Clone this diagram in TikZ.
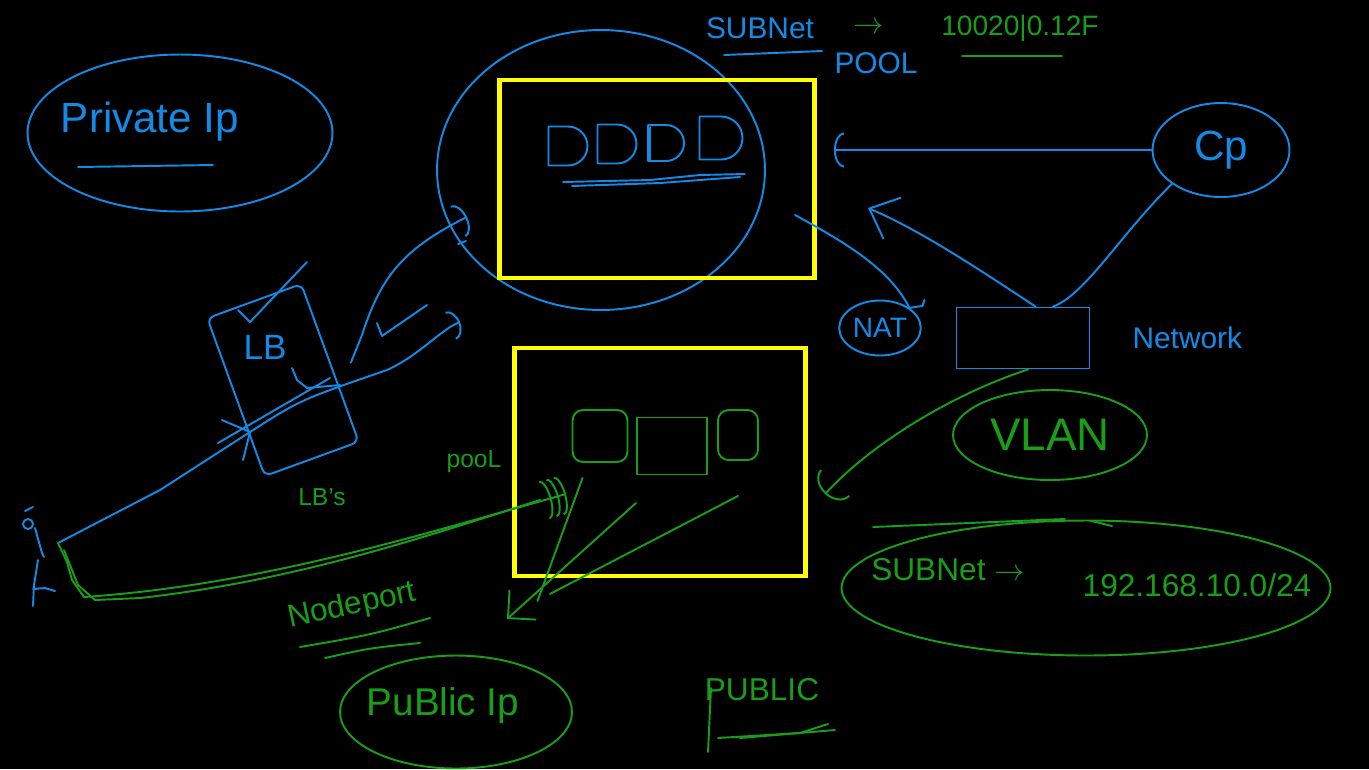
\documentclass[tikz,border=0pt]{standalone}
\usepackage{fontspec}
\setmainfont{Liberation Sans}
\usetikzlibrary{positioning,shapes.geometric,shapes.misc,arrows.meta}

\definecolor{penblue}{RGB}{18,138,230}
\definecolor{pengreen}{RGB}{24,158,24}
\definecolor{boxyellow}{RGB}{255,255,0}

\newcommand{\hand}[1]{\fontsize{#1}{#1}\selectfont}

\tikzset{
  blue pen/.style={draw=penblue, line width=1.1pt, line cap=round, line join=round},
  green pen/.style={draw=pengreen, line width=1.1pt, line cap=round, line join=round},
  ring/.style={ellipse, inner sep=0pt},
  yellowbox/.style={draw=boxyellow, line width=2.8pt, inner sep=0pt},
  bluetxt/.style={text=penblue, inner sep=1pt},
  greentxt/.style={text=pengreen, inner sep=1pt},
  dpod/.style={rounded rectangle, rounded rectangle west arc=none, inner sep=0pt},
}

\begin{document}
\begin{tikzpicture}[x=0.02cm, y=-0.02cm, >={Straight Barb[length=3mm,width=6mm]}]
\useasboundingbox (0,0) rectangle (1369,769);
\fill[black] (0,0) rectangle (1369,769);

% private ip and the load balancer
\node[blue pen, ring, minimum width=6.1cm, minimum height=3.14cm] (privip) at (180,133) {};
\node[bluetxt, font=\hand{24}] (privtxt) at (150,122) {Private Ip};
\draw[blue pen] (78,167) -- (213,165);

\node[blue pen, rectangle, rounded corners=4pt, rotate=20, minimum width=2cm, minimum height=3.36cm] (lb) at (283,380) {};
\node[bluetxt, font=\hand{20}] (lbtxt) at (265,347) {LB};
\node[greentxt, font=\hand{14}] (lbs) at (322,497) {LB's};

% user on the left
\coordinate (user) at (58,543);
\draw[blue pen] (25,511) -- (33,507);
\draw[blue pen] (28,524) circle (0.1cm);
\draw[blue pen] (35,528) -- (42,553) -- (44,557) (38,560) -- (34,585) -- (33,606) (33,589) -- (45,588) -- (55,591);

\coordinate (lbhook) at (460,322);
\draw[blue pen, -{Arc Barb[length=2mm,width=6mm]}] (user) -- (160,490) -- (250,432) .. controls (300,400) .. (387,370) .. controls (420,355) and (440,330) .. (lbhook);
\draw[blue pen] (218,443) -- (330,378);
\draw[blue pen] (222,420) -- (250,432) -- (243,460);
\draw[blue pen] (292,368) -- (297,380) -- (307,388) -- (340,385);
\draw[blue pen] (238,310) -- (250,322) -- (307,262);
\draw[blue pen] (377,323) -- (382,336) -- (427,305);

\coordinate (ringin) at (467,217);
\draw[blue pen, -{Arc Barb[length=2mm,width=7mm]}] ([xshift=0.4cm]lb.east) -- (362,335) .. controls (380,280) and (400,250) .. (ringin);
\draw[blue pen] (458,244) -- (466,241);

% pod box at the top
\node[blue pen, ring, minimum width=6.56cm, minimum height=5.6cm] (podring) at (601,170) {};
\node[yellowbox, minimum width=6.3cm, minimum height=3.96cm] (podbox) at (657,179) {};
\node[blue pen, dpod, minimum width=0.48cm, minimum height=0.78cm] (pa) at (568,146) {};
\node[blue pen, dpod, minimum width=0.52cm, minimum height=0.78cm] (pb) at (617,144) {};
\node[blue pen, dpod, minimum width=0.46cm, minimum height=0.72cm] (pc) at (666,143) {};
\node[blue pen, dpod, minimum width=0.62cm, minimum height=0.86cm] (pd) at (721,138) {};
\draw[blue pen] (650,127) -- (650,160);
\draw[blue pen] (563,182) -- (650,180) -- (700,175) -- (745,174);
\draw[blue pen] (572,186) -- (660,183) -- (740,177);

% subnet pool header
\node[bluetxt, font=\hand{17}] (subhead) at (760,28) {SUBNet};
\draw[blue pen] (724,55) -- (822,51);
\node[greentxt, font=\hand{17}, right=0.7cm of subhead] (subarrow) {$\rightarrow$};
\node[bluetxt, font=\hand{17}] (poolhead) at (876,63) {POOL};
\node[greentxt, font=\hand{16}] (poolip) at (1020,28) {10020|0.12F};
\draw[green pen] (962,56) -- (1062,56);

% control plane, network, nat
\node[blue pen, ring, bluetxt, font=\hand{24}, minimum width=2.74cm, minimum height=1.88cm] (cp) at (1221,150) {Cp};
\node[blue pen, rectangle, minimum width=2.66cm, minimum height=1.22cm] (netbox) at (1023,338) {};
\node[bluetxt, font=\hand{17}, right=0.8cm of netbox] (nettxt) {Network};
\node[blue pen, ring, bluetxt, font=\hand{16}, minimum width=1.4cm, minimum height=1.1cm] (nat) at (880,328) {NAT};

\draw[blue pen, -{Arc Barb[length=2mm,width=7mm]}, shorten >=0.34cm] (cp.west) -- (podbox.east |- cp.west);
\draw[blue pen] (cp.south west) .. controls (1120,235) and (1085,295) .. ([xshift=0.6cm]netbox.north);

\coordinate (natup) at (868,208);
\draw[blue pen, -{Straight Barb[length=5mm,width=9mm]}] ([xshift=0.25cm]netbox.north) .. controls (980,270) and (920,230) .. (natup);
\coordinate (natout) at (795,215);
\draw[blue pen] (natout) .. controls (850,245) and (890,270) .. (nat.north east) -- ++(13,-2) -- ++(2,-6);

% vlan and the node subnet
\node[green pen, ring, greentxt, font=\hand{26}, minimum width=3.88cm, minimum height=1.8cm] (vlan) at (1050,435) {VLAN};
\coordinate (vlanin) at (825,494);
\draw[green pen, -{Arc Barb[length=3mm,width=8mm]}] ([xshift=0.1cm]netbox.south) .. controls (950,395) and (870,445) .. (vlanin);

\node[green pen, ring, minimum width=9.78cm, minimum height=2.7cm] (subring) at (1086,588) {};
\draw[green pen] (873,527) -- (1065,519) (1092,521) -- (1112,526);
\node[greentxt, font=\hand{18}] (subtxt) at (948,570) {SUBNet $\rightarrow$};
\node[greentxt, font=\hand{18}] (subip) at (1197,585) {192.168.10.0/24};

% service box at the bottom
\node[yellowbox, minimum width=5.82cm, minimum height=4.56cm] (svcbox) at (660,462) {};
\node[green pen, rectangle, rounded corners=6pt, minimum width=1.1cm, minimum height=1.04cm] (ga) at (600,436) {};
\node[green pen, rectangle, minimum width=1.4cm, minimum height=1.14cm] (gb) at (672,446) {};
\node[green pen, rectangle, rounded corners=6pt, minimum width=0.8cm, minimum height=1cm] (gc) at (738,435) {};
\node[greentxt, font=\hand{14}] (poolmid) at (474,462) {pooL};

% nodeport
\coordinate (npin) at (566,494);
\draw[green pen, -{Arc Barb[length=1.5mm,width=8mm] Arc Barb[length=1.5mm,width=8mm] Arc Barb[length=1.5mm,width=8mm]}] (user) -- (67,562) -- (72,580) -- (84,597) .. controls (260,585) and (420,535) .. (npin);
\draw[green pen] (64,550) -- (78,585) -- (95,600) -- (140,598) .. controls (300,580) and (430,535) .. (540,500);

\node[greentxt, font=\hand{18}, rotate=12] (nptxt) at (352,606) {Nodeport};
\draw[green pen] (300,647) .. controls (370,635) .. (430,618);
\draw[green pen] (325,658) .. controls (370,648) .. (420,643);

\coordinate (npout) at (507,619);
\draw[green pen, -{Straight Barb[length=4mm,width=8mm]}] ([yshift=-0.55cm]gb.south west) -- (npout);
\draw[green pen] ([xshift=-0.35cm,yshift=-0.3cm]ga.south) -- ++(-45,123);
\draw[green pen] ([yshift=-0.7cm]gc.south) -- ++(-188,98);

% public
\node[green pen, ring, minimum width=4.64cm, minimum height=2.26cm] (pubring) at (456,712) {};
\node[greentxt, font=\hand{22}] (pubtxt) at (443,705) {PuBlic Ip};
\node[greentxt, font=\hand{18}] (pubright) at (762,690) {PUBLIC};
\draw[green pen] (711,688) -- (708,752);
\draw[green pen] (718,738) -- (800,733) -- (828,724);
\draw[green pen] (740,738) -- (835,730);
\end{tikzpicture}
\end{document}
